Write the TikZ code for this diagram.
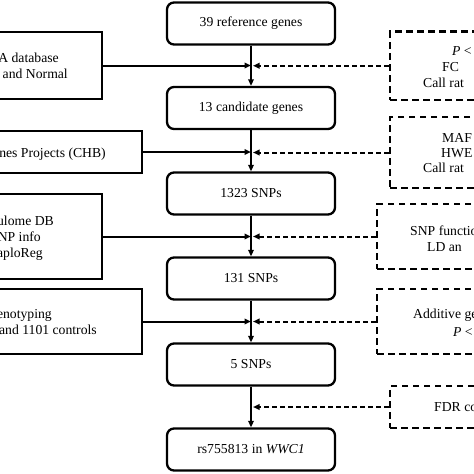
\documentclass[tikz,border=0pt]{standalone}
\usepackage{fontspec}
\setmainfont{Liberation Serif}
\usetikzlibrary{arrows.meta}
\tikzset{
  mainbox/.style={draw, line width=2.3pt, rounded corners=7pt, minimum width=168pt, minimum height=42pt, inner sep=0pt, font=\fontsize{13.7}{16}\selectfont},
  srcbox/.style={draw, line width=2.3pt, inner sep=0pt},
  critbox/.style={draw, line width=2.3pt, dash pattern=on 6.5pt off 4.5pt, inner sep=0pt},
  lbl/.style={inner sep=0pt, font=\fontsize{13.7}{16}\selectfont},
  flow/.style={line width=2pt, -{Triangle[length=6.5pt,width=5.5pt]}},
  solidin/.style={line width=2pt, -{Triangle[length=6.5pt,width=5.5pt]}},
  dashin/.style={line width=2pt, dash pattern=on 5pt off 3pt, -{Triangle[length=6.5pt,width=5.5pt]}, shorten >=2pt}
}
\begin{document}
\begin{tikzpicture}[x=1pt,y=-1pt]
\useasboundingbox (0,0) rectangle (474,474);
\clip (0,0) rectangle (474,474);
\fill[white] (0,0) rectangle (474,474);
% central boxes
\node[mainbox] (c1) at (251,23.5) {39 reference genes};
\node[mainbox] (c2) at (251,108) {13 candidate genes};
\node[mainbox] (c3) at (251,193.5) {1323 SNPs};
\node[mainbox] (c4) at (251,278.5) {131 SNPs};
\node[mainbox] (c5) at (251,364.5) {5 SNPs};
\node[mainbox] (c6) at (251,449.5) {rs755813 in \textit{WWC1}};
% left source boxes
\node[srcbox, minimum width=132pt, minimum height=67pt] (l1) at (36,65.5) {};
\node[srcbox, minimum width=172pt, minimum height=42pt] (l2) at (56,152) {};
\node[srcbox, minimum width=132pt, minimum height=85pt] (l3) at (36,236.5) {};
\node[srcbox, minimum width=172pt, minimum height=65pt] (l4) at (56,321.5) {};
% right criteria boxes
\node[critbox, minimum width=120pt, minimum height=68.5pt] (r1) at (450,65.75) {};
\node[critbox, minimum width=120pt, minimum height=71pt] (r2) at (450,152.5) {};
\node[critbox, minimum width=130pt, minimum height=65pt] (r3) at (442,236.5) {};
\node[critbox, minimum width=130pt, minimum height=65pt] (r4) at (442,321.5) {};
\node[critbox, minimum width=120pt, minimum height=42pt] (r5) at (450,407) {};
% left texts
\node[lbl, anchor=base east] (t1a) at (59,62) {A database};
\node[lbl, anchor=base east] (t1b) at (68,78) {and Normal};
\node[lbl, anchor=base east] (t2a) at (106,157) {nes Projects (CHB)};
\node[lbl, anchor=base east] (t3a) at (54,225) {ulome DB};
\node[lbl, anchor=base east] (t3b) at (41,241) {NP info};
\node[lbl, anchor=base east] (t3c) at (43,257) {aploReg};
\node[lbl, anchor=base east] (t4a) at (52,318) {enotyping};
\node[lbl, anchor=base east] (t4b) at (97,334) {and 1101 controls};
% right texts
\node[lbl, anchor=base west] (s1a) at (452,55) {\textit{P} <};
\node[lbl, anchor=base west] (s1b) at (442,71) {FC};
\node[lbl, anchor=base west] (s1c) at (423,87) {Call rat};
\node[lbl, anchor=base west] (s2a) at (442,142) {MAF};
\node[lbl, anchor=base west] (s2b) at (441,157) {HWE};
\node[lbl, anchor=base west] (s2c) at (423,172) {Call rat};
\node[lbl, anchor=base west] (s3a) at (410,235.5) {SNP functio};
\node[lbl, anchor=base west] (s3b) at (427,251.5) {LD an};
\node[lbl, anchor=base west] (s4a) at (413,318.5) {Additive ge};
\node[lbl, anchor=base west] (s4b) at (453,336) {\textit{P} <};
\node[lbl, anchor=base west] (s5a) at (434,411.5) {FDR co};
% vertical flow
\draw[flow] (c1) -- (c2);
\draw[flow] (c2) -- (c3);
\draw[flow] (c3) -- (c4);
\draw[flow] (c4) -- (c5);
\draw[flow] (c5) -- (c6);
% left inputs
\draw[solidin] (l1.east) -- (l1.east -| c1.center);
\draw[solidin] (l2.east) -- (l2.east -| c1.center);
\draw[solidin] (l3.east) -- (l3.east -| c1.center);
\draw[solidin] (l4.east) -- (l4.east -| c1.center);
% right criteria
\draw[dashin] (r1.west) -- (r1.west -| c1.center);
\draw[dashin] (r2.west) -- (r2.west -| c1.center);
\draw[dashin] (r3.west) -- (r3.west -| c1.center);
\draw[dashin] (r4.west) -- (r4.west -| c1.center);
\draw[dashin] (r5.west) -- (r5.west -| c1.center);
\end{tikzpicture}
\end{document}
